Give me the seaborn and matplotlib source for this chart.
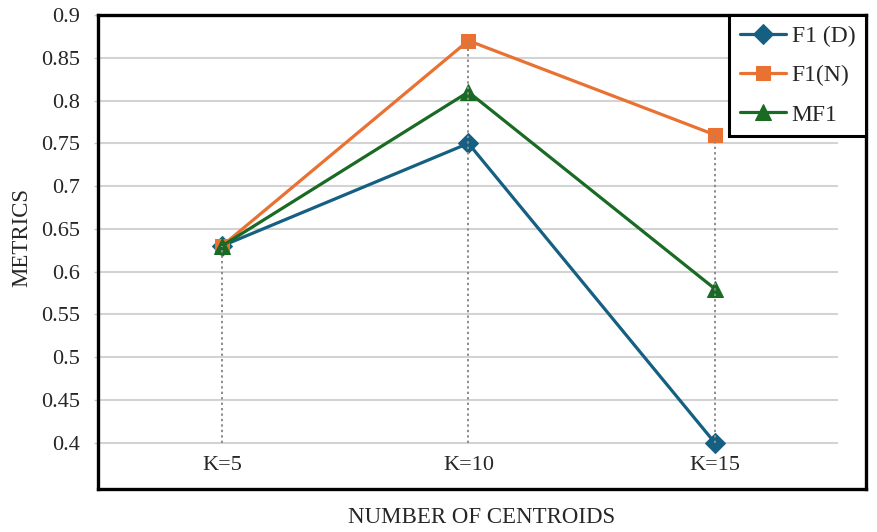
import matplotlib
matplotlib.use("Agg")
import numpy as np
import seaborn as sns
from matplotlib import pyplot as plt

# values
categories = ["K=5", "K=10", "K=15"]
f1_d = [0.63, 0.75, 0.40]
f1_n = [0.63, 0.87, 0.76]
mf1 = [0.63, 0.81, 0.58]
series_names = ["F1 (D)", "F1(N)", "MF1"]
y_ticks = [0.4, 0.45, 0.5, 0.55, 0.6, 0.65, 0.7, 0.75, 0.8, 0.85, 0.9]
y_labels = ["0.4", "0.45", "0.5", "0.55", "0.6", "0.65", "0.7", "0.75", "0.8", "0.85", "0.9"]

colors = ["#156082", "#E97132", "#196B24"]
markers = ["D", "s", "^"]
msizes = [10, 10, 11]

sns.set_theme(style="white")
plt.rcParams["font.family"] = ["Liberation Serif", "DejaVu Serif"]

fig = plt.figure(figsize=(8.77, 5.32), dpi=100)
ax = fig.add_axes([0.1114, 0.0808, 0.876, 0.891])

pos = np.arange(len(categories))

# horizontal gridlines only across the plot region
ax.hlines(y_ticks, -0.5, 2.5, color="#d3d3d3", lw=1.5, zorder=0)

for name, vals, col, mk, ms in zip(series_names, [f1_d, f1_n, mf1], colors, markers, msizes):
    sns.lineplot(x=pos, y=vals, ax=ax, color=col, marker=mk, markersize=ms,
                 markeredgecolor=col, lw=2.3, label=name, zorder=3)

# drop lines from the highest point to the axis minimum
tops = np.max(np.array([f1_d, f1_n, mf1]), axis=0)
ax.vlines(pos, y_ticks[0], tops, colors="#8c8c8c", linestyles=(0, (1.2, 1.6)), lw=1.4, zorder=5)

ax.set_xlim(-0.504, 2.613)
ax.set_ylim(0.346, 0.9)
ax.set_yticks(y_ticks)
ax.set_yticklabels(y_labels)
ax.set_xticks(pos)
ax.set_xticklabels(categories)

ax.tick_params(axis="y", length=3, color="#c8c8c8", width=1, labelsize=16, pad=10, left=True)
ax.tick_params(axis="x", length=0, labelsize=16, pad=-24)

for sp in ax.spines.values():
    sp.set_color("black")
    sp.set_linewidth(2.4)
    sp.set_zorder(6)

ax.set_xlabel("NUMBER OF CENTROIDS", fontsize=16.5, labelpad=13)
ax.set_ylabel("METRICS", fontsize=16.5)
ax.yaxis.set_label_coords(-0.085, 0.53)

leg = ax.legend(loc="upper right", bbox_to_anchor=(1.0, 1.0), frameon=True, fancybox=False,
                edgecolor="black", framealpha=1, fontsize=17, handlelength=1.95,
                labelspacing=0.75, borderpad=0.45, handletextpad=0.25, borderaxespad=0)
leg.get_frame().set_linewidth(2.2)
leg.set_zorder(10)

fig.savefig("out.png", dpi=100)
plt.close()
